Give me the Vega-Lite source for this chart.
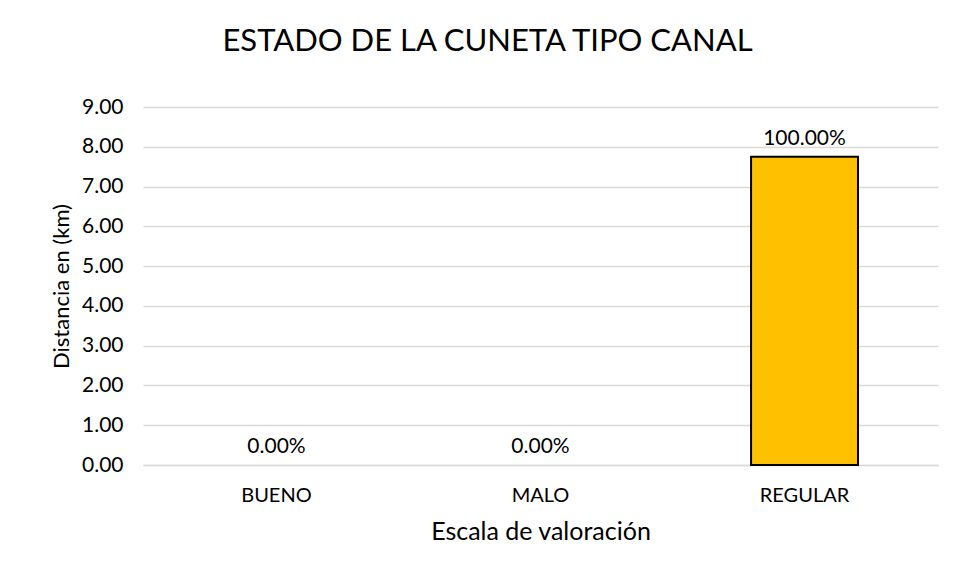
{
  "$schema": "https://vega.github.io/schema/vega-lite/v6.json",
  "width": 795,
  "height": 358,
  "autosize": {"type": "none"},
  "padding": {"left": 143, "top": 107, "right": 17, "bottom": 119},
  "background": "white",
  "config": {
    "font": "Lato",
    "view": {"stroke": null}
  },
  "title": {
    "text": "ESTADO DE LA CUNETA TIPO CANAL",
    "fontSize": 31,
    "font": "Lato",
    "fontWeight": "normal",
    "color": "#000000",
    "anchor": "middle",
    "dx": -53,
    "offset": 38
  },
  "data": {
    "values": [
      {"escala": "BUENO", "distancia": 0, "porcentaje": "0.00%"},
      {"escala": "MALO", "distancia": 0, "porcentaje": "0.00%"},
      {"escala": "REGULAR", "distancia": 7.75, "porcentaje": "100.00%"}
    ]
  },
  "encoding": {
    "x": {
      "field": "escala",
      "type": "nominal",
      "sort": ["BUENO", "MALO", "REGULAR"],
      "scale": {"domain": ["BUENO", "MALO", "REGULAR"], "paddingInner": 0.595, "paddingOuter": 0.303},
      "axis": {
        "title": "Escala de valoración",
        "titleFontSize": 25,
        "titleFontWeight": "normal",
        "titleColor": "#000000",
        "titlePadding": 14,
        "labelAngle": 0,
        "labelFontSize": 20,
        "labelColor": "#000000",
        "labelPadding": 20,
        "ticks": false,
        "domainColor": "#d9d9d9",
        "domainWidth": 1.5
      }
    },
    "y": {
      "field": "distancia",
      "type": "quantitative",
      "scale": {"domain": [0, 9], "nice": false},
      "axis": {
        "title": "Distancia en (km)",
        "titleFontSize": 22,
        "titleFontWeight": "normal",
        "titleColor": "#000000",
        "titlePadding": 8,
        "format": ".2f",
        "values": [0, 1, 2, 3, 4, 5, 6, 7, 8, 9],
        "labelOverlap": false,
        "labelFlush": false,
        "labelFontSize": 21,
        "labelColor": "#000000",
        "labelPadding": 20,
        "ticks": false,
        "domain": false,
        "gridColor": "#d9d9d9",
        "gridWidth": 1.5
      }
    }
  },
  "layer": [
    {
      "transform": [{"filter": "datum.distancia > 0"}],
      "mark": {"type": "bar", "color": "#FFC000", "stroke": "#000000", "strokeWidth": 2}
    },
    {
      "mark": {"type": "text", "baseline": "alphabetic", "dy": -12, "fontSize": 21, "color": "#000000"},
      "encoding": {"text": {"field": "porcentaje"}}
    }
  ]
}
